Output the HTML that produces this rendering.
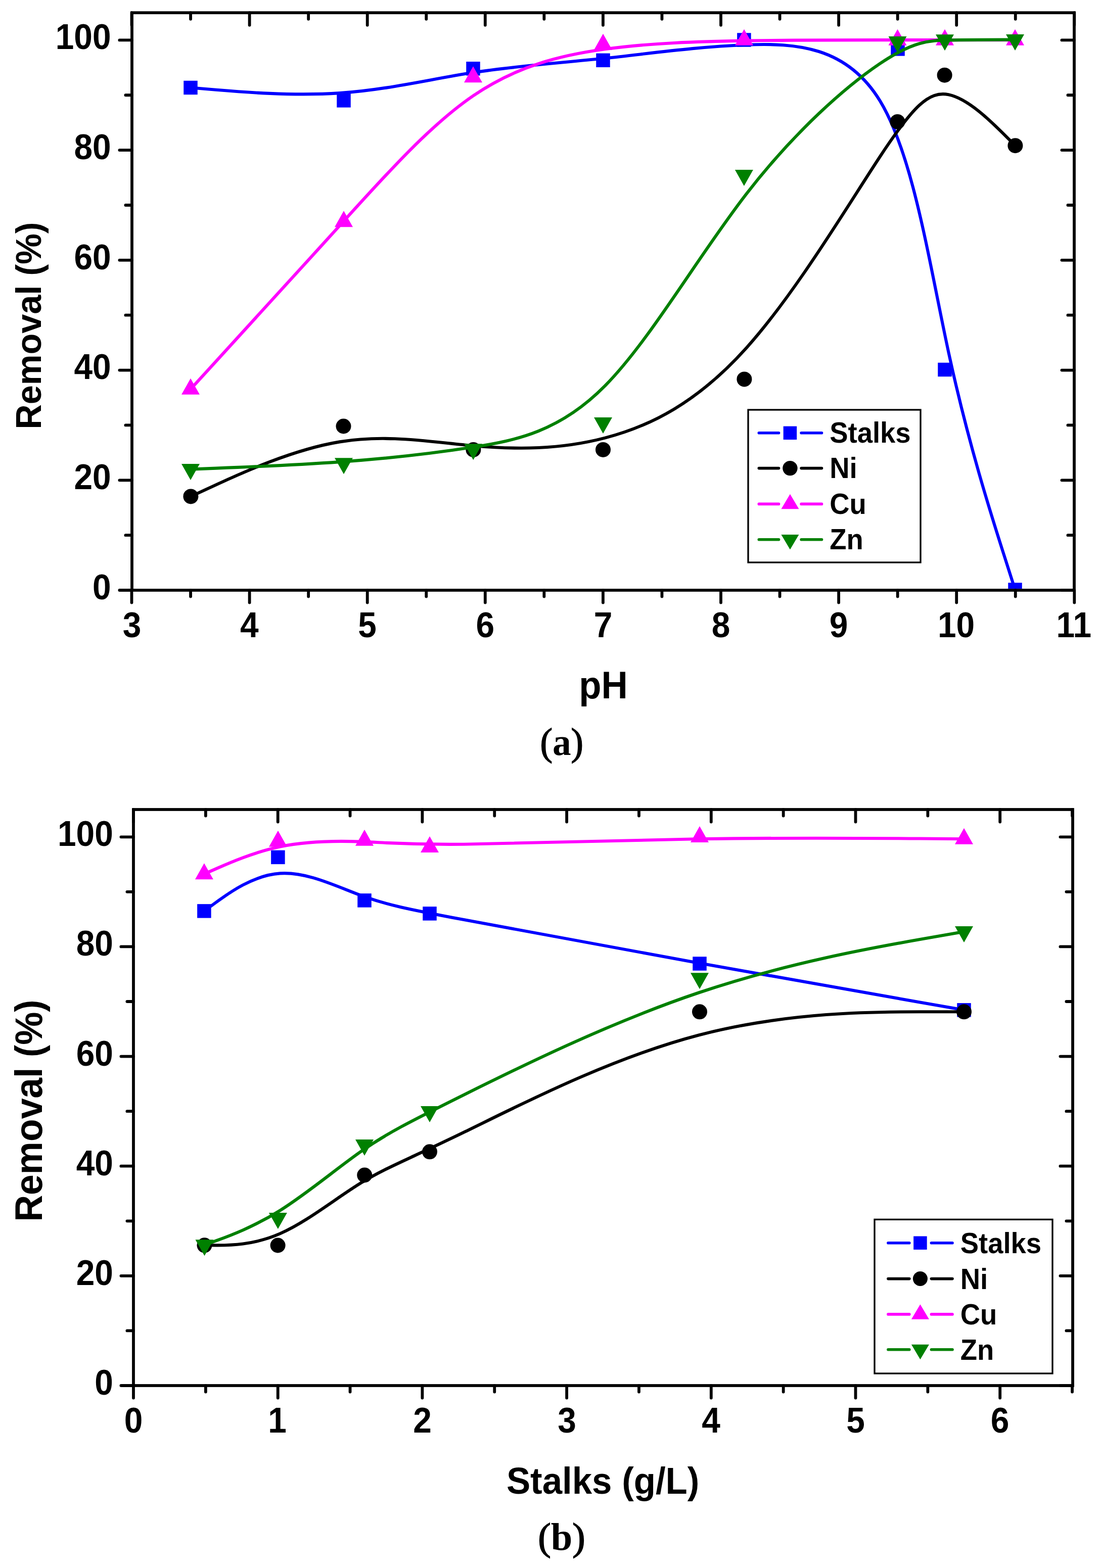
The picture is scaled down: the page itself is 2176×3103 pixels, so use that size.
<!DOCTYPE html>
<html><head><meta charset="utf-8"><title>Removal vs pH and Stalks dose</title>
<style>
html,body{margin:0;padding:0;background:#fff;}
body{width:2176px;height:3103px;overflow:hidden;}
svg{display:block;}
</style></head>
<body>
<svg width="2176" height="3103" viewBox="0 0 2176 3103">
<rect width="2176" height="3103" fill="#fff"/>
<clipPath id="clipa"><rect x="263.9" y="28.099999999999998" width="1858.2" height="1137.0"/></clipPath>
<g clip-path="url(#clipa)">
<path d="M377.00,173.50 C377.00,173.50 377.00,173.50 427.50,177.73 C478.00,181.97 579.00,190.43 672.17,184.15 C765.33,177.87 850.67,156.83 936.17,143.57 C1021.67,130.30 1107.33,124.80 1196.65,115.33 C1285.97,105.87 1378.93,92.43 1476.10,88.70 C1573.27,84.97 1674.63,90.93 1740.82,199.68 C1807.00,308.43 1838.00,519.97 1876.67,698.32 C1915.33,876.67 1961.67,1021.83 1984.83,1094.42 C2008.00,1167.00 2008.00,1167.00 2008.00,1167.00" fill="none" stroke="#0000ff" stroke-width="6.1" stroke-linejoin="round" stroke-linecap="round"/>
<rect x="363.25" y="159.75" width="27.5" height="27.5" fill="#0000ff"/>
<rect x="666.25" y="185.15" width="27.5" height="27.5" fill="#0000ff"/>
<rect x="922.25" y="122.05" width="27.5" height="27.5" fill="#0000ff"/>
<rect x="1179.25" y="105.55" width="27.5" height="27.5" fill="#0000ff"/>
<rect x="1458.15" y="65.25" width="27.5" height="27.5" fill="#0000ff"/>
<rect x="1762.25" y="83.15" width="27.5" height="27.5" fill="#0000ff"/>
<rect x="1855.25" y="717.75" width="27.5" height="27.5" fill="#0000ff"/>
<rect x="1994.25" y="1153.25" width="27.5" height="27.5" fill="#0000ff"/>
<path d="M377.40,982.40 C377.40,982.40 377.40,982.40 427.75,959.25 C478.10,936.10 578.80,889.80 671.97,874.38 C765.13,858.97 850.77,874.43 936.35,882.17 C1021.93,889.90 1107.47,889.90 1196.80,866.65 C1286.13,843.40 1379.27,796.90 1476.33,688.73 C1573.40,580.57 1674.40,410.73 1740.43,310.45 C1806.47,210.17 1837.53,179.43 1876.37,187.32 C1915.20,195.20 1961.80,241.70 1985.10,264.95 C2008.40,288.20 2008.40,288.20 2008.40,288.20" fill="none" stroke="#000000" stroke-width="6.1" stroke-linejoin="round" stroke-linecap="round"/>
<circle cx="377.40" cy="982.40" r="15" fill="#000000"/>
<circle cx="679.50" cy="843.50" r="15" fill="#000000"/>
<circle cx="936.40" cy="889.90" r="15" fill="#000000"/>
<circle cx="1193.00" cy="889.90" r="15" fill="#000000"/>
<circle cx="1472.40" cy="750.40" r="15" fill="#000000"/>
<circle cx="1775.40" cy="240.90" r="15" fill="#000000"/>
<circle cx="1868.60" cy="148.70" r="15" fill="#000000"/>
<circle cx="2008.40" cy="288.20" r="15" fill="#000000"/>
<path d="M377.00,770.20 C377.00,770.20 377.00,770.20 427.50,714.93 C478.00,659.67 579.00,549.13 672.17,446.20 C765.33,343.27 850.67,247.93 936.17,189.50 C1021.67,131.07 1107.33,109.53 1196.67,97.30 C1286.00,85.07 1379.00,82.13 1476.08,80.65 C1573.17,79.17 1674.33,79.13 1740.50,79.12 C1806.67,79.10 1837.83,79.10 1876.58,79.10 C1915.33,79.10 1961.67,79.10 1984.83,79.10 C2008.00,79.10 2008.00,79.10 2008.00,79.10" fill="none" stroke="#ff00ff" stroke-width="6.1" stroke-linejoin="round" stroke-linecap="round"/>
<polygon points="377.00,748.87 395.00,780.87 359.00,780.87" fill="#ff00ff"/>
<polygon points="680.00,417.27 698.00,449.27 662.00,449.27" fill="#ff00ff"/>
<polygon points="936.00,131.27 954.00,163.27 918.00,163.27" fill="#ff00ff"/>
<polygon points="1193.00,66.67 1211.00,98.67 1175.00,98.67" fill="#ff00ff"/>
<polygon points="1472.00,57.87 1490.00,89.87 1454.00,89.87" fill="#ff00ff"/>
<polygon points="1775.50,57.77 1793.50,89.77 1757.50,89.77" fill="#ff00ff"/>
<polygon points="1869.00,57.77 1887.00,89.77 1851.00,89.77" fill="#ff00ff"/>
<polygon points="2008.00,57.77 2026.00,89.77 1990.00,89.77" fill="#ff00ff"/>
<path d="M377.00,928.60 C377.00,928.60 377.00,928.60 427.50,926.63 C478.00,924.67 579.00,920.73 672.20,914.10 C765.40,907.47 850.80,898.13 936.30,884.77 C1021.80,871.40 1107.40,854.00 1196.68,763.65 C1285.97,673.30 1378.93,510.00 1476.02,384.35 C1573.10,258.70 1674.30,170.70 1740.48,126.05 C1806.67,81.40 1837.83,80.10 1876.58,79.42 C1915.33,78.73 1961.67,78.67 1984.83,78.63 C2008.00,78.60 2008.00,78.60 2008.00,78.60" fill="none" stroke="#008000" stroke-width="6.1" stroke-linejoin="round" stroke-linecap="round"/>
<polygon points="377.00,949.93 395.00,917.93 359.00,917.93" fill="#008000"/>
<polygon points="680.00,938.13 698.00,906.13 662.00,906.13" fill="#008000"/>
<polygon points="936.20,910.13 954.20,878.13 918.20,878.13" fill="#008000"/>
<polygon points="1193.00,857.93 1211.00,825.93 1175.00,825.93" fill="#008000"/>
<polygon points="1471.90,368.03 1489.90,336.03 1453.90,336.03" fill="#008000"/>
<polygon points="1775.50,104.03 1793.50,72.03 1757.50,72.03" fill="#008000"/>
<polygon points="1869.00,100.13 1887.00,68.13 1851.00,68.13" fill="#008000"/>
<polygon points="2008.00,99.93 2026.00,67.93 1990.00,67.93" fill="#008000"/>
</g>
<rect x="261" y="25.2" width="1864" height="1142.8" fill="none" stroke="#000" stroke-width="5.8"/>
<path d="M260.50,1168 v24.6 M260.50,25.2 v24.6 M377.05,1168 v12.6 M377.05,25.2 v12.6 M493.60,1168 v24.6 M493.60,25.2 v24.6 M610.15,1168 v12.6 M610.15,25.2 v12.6 M726.70,1168 v24.6 M726.70,25.2 v24.6 M843.25,1168 v12.6 M843.25,25.2 v12.6 M959.80,1168 v24.6 M959.80,25.2 v24.6 M1076.35,1168 v12.6 M1076.35,25.2 v12.6 M1192.90,1168 v24.6 M1192.90,25.2 v24.6 M1309.45,1168 v12.6 M1309.45,25.2 v12.6 M1426.00,1168 v24.6 M1426.00,25.2 v24.6 M1542.55,1168 v12.6 M1542.55,25.2 v12.6 M1659.10,1168 v24.6 M1659.10,25.2 v24.6 M1775.65,1168 v12.6 M1775.65,25.2 v12.6 M1892.20,1168 v24.6 M1892.20,25.2 v24.6 M2008.75,1168 v12.6 M2008.75,25.2 v12.6 M2125.30,1168 v24.6 M2125.30,25.2 v24.6 M261,1168.00 h-24.6 M2125,1168.00 h-24.6 M261,1059.14 h-12.6 M2125,1059.14 h-12.6 M261,950.28 h-24.6 M2125,950.28 h-24.6 M261,841.42 h-12.6 M2125,841.42 h-12.6 M261,732.56 h-24.6 M2125,732.56 h-24.6 M261,623.70 h-12.6 M2125,623.70 h-12.6 M261,514.84 h-24.6 M2125,514.84 h-24.6 M261,405.98 h-12.6 M2125,405.98 h-12.6 M261,297.12 h-24.6 M2125,297.12 h-24.6 M261,188.26 h-12.6 M2125,188.26 h-12.6 M261,79.40 h-24.6 M2125,79.40 h-24.6" stroke="#000" stroke-width="5.8" stroke-linecap="round" fill="none"/>
<text transform="translate(242.65,1261.30) scale(0.9400,1)" font-family='"Liberation Sans", Arial, sans-serif' font-weight="bold" font-size="70">3</text>
<text transform="translate(475.01,1261.30) scale(0.9400,1)" font-family='"Liberation Sans", Arial, sans-serif' font-weight="bold" font-size="70">4</text>
<text transform="translate(708.36,1261.30) scale(0.9400,1)" font-family='"Liberation Sans", Arial, sans-serif' font-weight="bold" font-size="70">5</text>
<text transform="translate(941.46,1261.30) scale(0.9400,1)" font-family='"Liberation Sans", Arial, sans-serif' font-weight="bold" font-size="70">6</text>
<text transform="translate(1174.64,1261.30) scale(0.9400,1)" font-family='"Liberation Sans", Arial, sans-serif' font-weight="bold" font-size="70">7</text>
<text transform="translate(1407.66,1261.30) scale(0.9400,1)" font-family='"Liberation Sans", Arial, sans-serif' font-weight="bold" font-size="70">8</text>
<text transform="translate(1640.84,1261.30) scale(0.9400,1)" font-family='"Liberation Sans", Arial, sans-serif' font-weight="bold" font-size="70">9</text>
<text transform="translate(1854.94,1261.30) scale(0.9400,1)" font-family='"Liberation Sans", Arial, sans-serif' font-weight="bold" font-size="70">10</text>
<text transform="translate(2089.44,1261.30) scale(0.9400,1)" font-family='"Liberation Sans", Arial, sans-serif' font-weight="bold" font-size="70">11</text>
<text transform="translate(182.91,1185.80) scale(0.9400,1)" font-family='"Liberation Sans", Arial, sans-serif' font-weight="bold" font-size="70">0</text>
<text transform="translate(146.39,968.08) scale(0.9400,1)" font-family='"Liberation Sans", Arial, sans-serif' font-weight="bold" font-size="70">20</text>
<text transform="translate(146.39,750.36) scale(0.9400,1)" font-family='"Liberation Sans", Arial, sans-serif' font-weight="bold" font-size="70">40</text>
<text transform="translate(146.39,532.64) scale(0.9400,1)" font-family='"Liberation Sans", Arial, sans-serif' font-weight="bold" font-size="70">60</text>
<text transform="translate(146.39,314.92) scale(0.9400,1)" font-family='"Liberation Sans", Arial, sans-serif' font-weight="bold" font-size="70">80</text>
<text transform="translate(109.71,97.20) scale(0.9400,1)" font-family='"Liberation Sans", Arial, sans-serif' font-weight="bold" font-size="70">100</text>
<rect x="1480" y="811" width="341" height="302" fill="#fff" stroke="#000" stroke-width="3.3"/>
<path d="M1501.30,856.80 H1540.50 M1585.10,856.80 H1625.50" stroke="#0000ff" stroke-width="5.6" stroke-linecap="round" fill="none"/>
<rect x="1549.65" y="843.55" width="26.5" height="26.5" fill="#0000ff"/>
<text transform="translate(1641.27,876.10) scale(0.955,1)" font-family='"Liberation Sans", Arial, sans-serif' font-weight="bold" font-size="57">Stalks</text>
<path d="M1501.30,926.60 H1540.50 M1585.10,926.60 H1625.50" stroke="#000000" stroke-width="5.6" stroke-linecap="round" fill="none"/>
<circle cx="1562.9" cy="926.60" r="14.7" fill="#000000"/>
<text transform="translate(1641.27,945.90) scale(0.955,1)" font-family='"Liberation Sans", Arial, sans-serif' font-weight="bold" font-size="57">Ni</text>
<path d="M1501.30,997.40 H1540.50 M1585.10,997.40 H1625.50" stroke="#ff00ff" stroke-width="5.6" stroke-linecap="round" fill="none"/>
<polygon points="1562.90,977.73 1580.40,1007.23 1545.40,1007.23" fill="#ff00ff"/>
<text transform="translate(1641.27,1016.70) scale(0.955,1)" font-family='"Liberation Sans", Arial, sans-serif' font-weight="bold" font-size="57">Cu</text>
<path d="M1501.30,1067.80 H1540.50 M1585.10,1067.80 H1625.50" stroke="#008000" stroke-width="5.6" stroke-linecap="round" fill="none"/>
<polygon points="1562.90,1087.47 1580.40,1057.97 1545.40,1057.97" fill="#008000"/>
<text transform="translate(1641.27,1087.10) scale(0.955,1)" font-family='"Liberation Sans", Arial, sans-serif' font-weight="bold" font-size="57">Zn</text>
<clipPath id="clipb"><rect x="266.9" y="1604.9" width="1852.2" height="1134.2"/></clipPath>
<g clip-path="url(#clipb)">
<path d="M403.90,1802.90 C403.90,1802.90 403.90,1802.90 428.23,1785.15 C452.57,1767.40 501.23,1731.90 554.08,1728.40 C606.93,1724.90 663.97,1753.40 713.98,1771.98 C764.00,1790.57 807.00,1799.23 917.50,1820.08 C1028.00,1840.93 1206.00,1873.97 1382.17,1905.78 C1558.33,1937.60 1732.67,1968.20 1819.83,1983.50 C1907.00,1998.80 1907.00,1998.80 1907.00,1998.80" fill="none" stroke="#0000ff" stroke-width="6.1" stroke-linejoin="round" stroke-linecap="round"/>
<rect x="390.15" y="1789.15" width="27.5" height="27.5" fill="#0000ff"/>
<rect x="536.15" y="1682.65" width="27.5" height="27.5" fill="#0000ff"/>
<rect x="707.25" y="1768.15" width="27.5" height="27.5" fill="#0000ff"/>
<rect x="836.25" y="1794.15" width="27.5" height="27.5" fill="#0000ff"/>
<rect x="1370.25" y="1893.25" width="27.5" height="27.5" fill="#0000ff"/>
<rect x="1893.25" y="1985.05" width="27.5" height="27.5" fill="#0000ff"/>
<path d="M404.50,2464.30 C404.50,2464.30 404.50,2464.30 428.68,2464.33 C452.87,2464.37 501.23,2464.43 554.02,2441.30 C606.80,2418.17 664.00,2371.83 714.07,2340.97 C764.13,2310.10 807.07,2294.70 917.53,2240.83 C1028.00,2186.97 1206.00,2094.63 1382.17,2048.47 C1558.33,2002.30 1732.67,2002.30 1819.83,2002.30 C1907.00,2002.30 1907.00,2002.30 1907.00,2002.30" fill="none" stroke="#000000" stroke-width="6.1" stroke-linejoin="round" stroke-linecap="round"/>
<circle cx="404.50" cy="2464.30" r="15" fill="#000000"/>
<circle cx="549.60" cy="2464.50" r="15" fill="#000000"/>
<circle cx="721.20" cy="2325.50" r="15" fill="#000000"/>
<circle cx="850.00" cy="2279.30" r="15" fill="#000000"/>
<circle cx="1384.00" cy="2002.30" r="15" fill="#000000"/>
<circle cx="1907.00" cy="2002.30" r="15" fill="#000000"/>
<path d="M403.90,1729.60 C403.90,1729.60 403.90,1729.60 428.25,1718.85 C452.60,1708.10 501.30,1686.60 554.15,1675.52 C607.00,1664.43 664.00,1663.77 714.00,1665.63 C764.00,1667.50 807.00,1671.90 917.50,1670.77 C1028.00,1669.63 1206.00,1662.97 1382.17,1660.28 C1558.33,1657.60 1732.67,1658.90 1819.83,1659.55 C1907.00,1660.20 1907.00,1660.20 1907.00,1660.20" fill="none" stroke="#ff00ff" stroke-width="6.1" stroke-linejoin="round" stroke-linecap="round"/>
<polygon points="403.90,1708.27 421.90,1740.27 385.90,1740.27" fill="#ff00ff"/>
<polygon points="550.00,1643.77 568.00,1675.77 532.00,1675.77" fill="#ff00ff"/>
<polygon points="721.00,1641.77 739.00,1673.77 703.00,1673.77" fill="#ff00ff"/>
<polygon points="850.00,1654.97 868.00,1686.97 832.00,1686.97" fill="#ff00ff"/>
<polygon points="1384.00,1634.97 1402.00,1666.97 1366.00,1666.97" fill="#ff00ff"/>
<polygon points="1907.00,1638.87 1925.00,1670.87 1889.00,1670.87" fill="#ff00ff"/>
<path d="M404.50,2463.80 C404.50,2463.80 404.50,2463.80 428.73,2454.93 C452.97,2446.07 501.43,2428.33 554.18,2395.30 C606.93,2362.27 663.97,2313.93 713.98,2278.78 C764.00,2243.63 807.00,2221.67 917.50,2166.72 C1028.00,2111.77 1206.00,2023.83 1382.17,1964.50 C1558.33,1905.17 1732.67,1874.43 1819.83,1859.07 C1907.00,1843.70 1907.00,1843.70 1907.00,1843.70" fill="none" stroke="#008000" stroke-width="6.1" stroke-linejoin="round" stroke-linecap="round"/>
<polygon points="404.50,2485.13 422.50,2453.13 386.50,2453.13" fill="#008000"/>
<polygon points="549.90,2431.93 567.90,2399.93 531.90,2399.93" fill="#008000"/>
<polygon points="721.00,2286.93 739.00,2254.93 703.00,2254.93" fill="#008000"/>
<polygon points="850.00,2221.03 868.00,2189.03 832.00,2189.03" fill="#008000"/>
<polygon points="1384.00,1957.23 1402.00,1925.23 1366.00,1925.23" fill="#008000"/>
<polygon points="1907.00,1865.03 1925.00,1833.03 1889.00,1833.03" fill="#008000"/>
</g>
<rect x="264" y="1602" width="1858" height="1140" fill="none" stroke="#000" stroke-width="5.8"/>
<path d="M264.00,2742 v24.6 M264.00,1602 v24.6 M406.85,2742 v12.6 M406.85,1602 v12.6 M549.70,2742 v24.6 M549.70,1602 v24.6 M692.55,2742 v12.6 M692.55,1602 v12.6 M835.40,2742 v24.6 M835.40,1602 v24.6 M978.25,2742 v12.6 M978.25,1602 v12.6 M1121.10,2742 v24.6 M1121.10,1602 v24.6 M1263.95,2742 v12.6 M1263.95,1602 v12.6 M1406.80,2742 v24.6 M1406.80,1602 v24.6 M1549.65,2742 v12.6 M1549.65,1602 v12.6 M1692.50,2742 v24.6 M1692.50,1602 v24.6 M1835.35,2742 v12.6 M1835.35,1602 v12.6 M1978.20,2742 v24.6 M1978.20,1602 v24.6 M2121.05,2742 v12.6 M2121.05,1602 v12.6 M264,2742.00 h-24.6 M2122,2742.00 h-24.6 M264,2633.43 h-12.6 M2122,2633.43 h-12.6 M264,2524.86 h-24.6 M2122,2524.86 h-24.6 M264,2416.29 h-12.6 M2122,2416.29 h-12.6 M264,2307.72 h-24.6 M2122,2307.72 h-24.6 M264,2199.15 h-12.6 M2122,2199.15 h-12.6 M264,2090.58 h-24.6 M2122,2090.58 h-24.6 M264,1982.01 h-12.6 M2122,1982.01 h-12.6 M264,1873.44 h-24.6 M2122,1873.44 h-24.6 M264,1764.87 h-12.6 M2122,1764.87 h-12.6 M264,1656.30 h-24.6 M2122,1656.30 h-24.6" stroke="#000" stroke-width="5.8" stroke-linecap="round" fill="none"/>
<text transform="translate(245.74,2835.20) scale(0.9400,1)" font-family='"Liberation Sans", Arial, sans-serif' font-weight="bold" font-size="70">0</text>
<text transform="translate(530.29,2835.20) scale(0.9400,1)" font-family='"Liberation Sans", Arial, sans-serif' font-weight="bold" font-size="70">1</text>
<text transform="translate(817.30,2835.20) scale(0.9400,1)" font-family='"Liberation Sans", Arial, sans-serif' font-weight="bold" font-size="70">2</text>
<text transform="translate(1103.25,2835.20) scale(0.9400,1)" font-family='"Liberation Sans", Arial, sans-serif' font-weight="bold" font-size="70">3</text>
<text transform="translate(1388.21,2835.20) scale(0.9400,1)" font-family='"Liberation Sans", Arial, sans-serif' font-weight="bold" font-size="70">4</text>
<text transform="translate(1674.16,2835.20) scale(0.9400,1)" font-family='"Liberation Sans", Arial, sans-serif' font-weight="bold" font-size="70">5</text>
<text transform="translate(1959.86,2835.20) scale(0.9400,1)" font-family='"Liberation Sans", Arial, sans-serif' font-weight="bold" font-size="70">6</text>
<text transform="translate(187.21,2760.00) scale(0.9400,1)" font-family='"Liberation Sans", Arial, sans-serif' font-weight="bold" font-size="70">0</text>
<text transform="translate(150.69,2542.86) scale(0.9400,1)" font-family='"Liberation Sans", Arial, sans-serif' font-weight="bold" font-size="70">20</text>
<text transform="translate(150.69,2325.72) scale(0.9400,1)" font-family='"Liberation Sans", Arial, sans-serif' font-weight="bold" font-size="70">40</text>
<text transform="translate(150.69,2108.58) scale(0.9400,1)" font-family='"Liberation Sans", Arial, sans-serif' font-weight="bold" font-size="70">60</text>
<text transform="translate(150.69,1891.44) scale(0.9400,1)" font-family='"Liberation Sans", Arial, sans-serif' font-weight="bold" font-size="70">80</text>
<text transform="translate(114.01,1674.30) scale(0.9400,1)" font-family='"Liberation Sans", Arial, sans-serif' font-weight="bold" font-size="70">100</text>
<rect x="1730" y="2413.3" width="352" height="304.6999999999998" fill="#fff" stroke="#000" stroke-width="3.3"/>
<path d="M1756.90,2459.70 H1798.80 M1842.40,2459.70 H1884.00" stroke="#0000ff" stroke-width="5.6" stroke-linecap="round" fill="none"/>
<rect x="1807.15" y="2446.45" width="26.5" height="26.5" fill="#0000ff"/>
<text transform="translate(1899.77,2480.00) scale(0.955,1)" font-family='"Liberation Sans", Arial, sans-serif' font-weight="bold" font-size="57">Stalks</text>
<path d="M1756.90,2530.60 H1798.80 M1842.40,2530.60 H1884.00" stroke="#000000" stroke-width="5.6" stroke-linecap="round" fill="none"/>
<circle cx="1820.4" cy="2530.60" r="14.5" fill="#000000"/>
<text transform="translate(1899.77,2550.90) scale(0.955,1)" font-family='"Liberation Sans", Arial, sans-serif' font-weight="bold" font-size="57">Ni</text>
<path d="M1756.90,2600.90 H1798.80 M1842.40,2600.90 H1884.00" stroke="#ff00ff" stroke-width="5.6" stroke-linecap="round" fill="none"/>
<polygon points="1820.40,2581.23 1837.90,2610.73 1802.90,2610.73" fill="#ff00ff"/>
<text transform="translate(1899.77,2621.20) scale(0.955,1)" font-family='"Liberation Sans", Arial, sans-serif' font-weight="bold" font-size="57">Cu</text>
<path d="M1756.90,2670.70 H1798.80 M1842.40,2670.70 H1884.00" stroke="#008000" stroke-width="5.6" stroke-linecap="round" fill="none"/>
<polygon points="1820.40,2690.37 1837.90,2660.87 1802.90,2660.87" fill="#008000"/>
<text transform="translate(1899.77,2691.00) scale(0.955,1)" font-family='"Liberation Sans", Arial, sans-serif' font-weight="bold" font-size="57">Zn</text>
<text transform="translate(81.00,849.61) rotate(-90) scale(0.9696,1)" font-family='"Liberation Sans", Arial, sans-serif' font-weight="bold" font-size="70.5" fill="#000">Removal (%)</text>
<text transform="translate(83.00,2417.84) rotate(-90) scale(0.9638,1)" font-family='"Liberation Sans", Arial, sans-serif' font-weight="bold" font-size="76" fill="#000">Removal (%)</text>
<text transform="translate(1145.29,1382.00) scale(0.9603,1)" font-family='"Liberation Sans", Arial, sans-serif' font-weight="bold" font-size="75.5" fill="#000">pH</text>
<text transform="translate(1001.88,2955.80) scale(0.9569,1)" font-family='"Liberation Sans", Arial, sans-serif' font-weight="bold" font-size="74" fill="#000">Stalks (g/L)</text>
<text transform="translate(1068.50,1494.00) scale(0.9647,1)" font-family='"Liberation Serif", "Times New Roman", serif' font-weight="bold" font-size="76" fill="#000"><tspan font-weight="normal" stroke="#000" stroke-width="1.6">(</tspan>a<tspan font-weight="normal" stroke="#000" stroke-width="1.6">)</tspan></text>
<text transform="translate(1064.16,3066.70) scale(1.0063,1)" font-family='"Liberation Serif", "Times New Roman", serif' font-weight="bold" font-size="76" fill="#000"><tspan font-weight="normal" stroke="#000" stroke-width="1.6">(</tspan>b<tspan font-weight="normal" stroke="#000" stroke-width="1.6">)</tspan></text>
</svg>
</body></html>
